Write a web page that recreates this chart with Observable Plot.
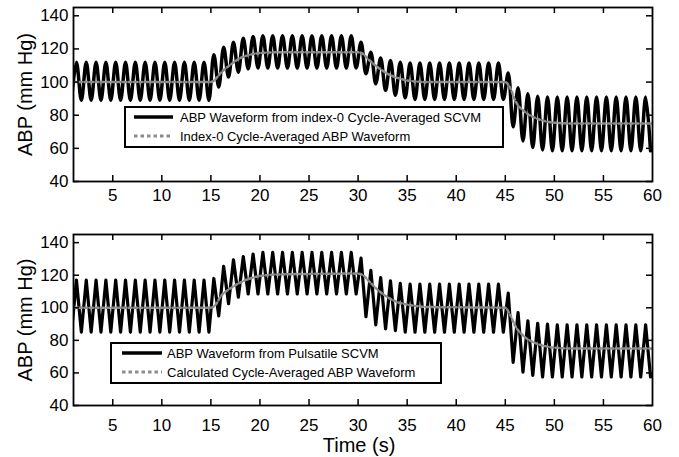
<!DOCTYPE html>
<html>
<head>
<meta charset="utf-8">
<script src="https://cdn.jsdelivr.net/npm/d3@7"></script>
<script src="https://cdn.jsdelivr.net/npm/@observablehq/plot@0.6"></script>
<style>
  html, body { margin: 0; padding: 0; background: white; }
  #wrap { position: relative; width: 679px; height: 457px; font-family: "Liberation Sans", Arial, sans-serif; }
  .legend { position: absolute; }
</style>
</head>
<body>
<div id="wrap"></div>
<script>
// ---------- data ----------
const xTicks = [5, 10, 15, 20, 25, 30, 35, 40, 45, 50, 55, 60];
const yTicks = [40, 60, 80, 100, 120, 140];

// beat numbers: peaks at beat + 0.3 s, troughs at beat + 0.8 s
const peakBeats = d3.range(1, 60);    // 1..59
const troughBeats = d3.range(0, 60);  // 0..59

// Top panel: ABP waveform from index-0 cycle-averaged SCVM
const topPeaks = [
  112,112,112,112,112,112,112,112,112,112,112,112,112,112,
  116.5,121,124,126.5,127.5,
  128,128,128,128,128,128,128,128,128,128,
  124,118,114.5,113,112,
  111.5,111.5,111.5,111.5,111.5,111.5,111.5,111.5,111.5,111.5,
  105.5,96.5,93,91.5,
  91,91,91,91,91,91,91,91,91,91,91
];
const topTroughs = [
  89,89,89,89,89,89,89,89,89,89,89,89,89,89,89,
  97,103,106,108,
  108.5,108.5,108.5,108.5,108.5,108.5,108.5,108.5,108.5,108.5,108.5,
  105,99,95,92,90.5,
  89.5,89.5,89.5,89.5,89.5,89.5,89.5,89.5,89.5,89.5,
  73,64.5,60.5,59,
  58.5,58.5,58.5,58.5,58.5,58.5,58.5,58.5,58.5,58.5,58.5
];
const topMeanT = [1, 15, 15.5, 16, 17, 18, 19, 20, 22, 30, 30.5, 31, 32, 33, 34, 35, 37, 45, 45.5, 46, 47, 48, 49, 50, 52, 60];
const topMeanV = [100, 100, 102, 105.5, 110.5, 114.5, 116.5, 117.5, 118, 118, 117, 114, 109, 105, 102.5, 101, 100, 100, 96.5, 89, 82, 78.5, 76.5, 75.5, 75, 75];

// Bottom panel: ABP waveform from pulsatile SCVM
const botPeaks = [
  117,117,117,117,117,117,117,117,117,117,117,117,117,117,
  118,125.5,129.5,131.5,133,
  134,134,134,134,134,134,134,134,134,134,
  130.5,123,118.5,116.5,115,
  114.5,114.5,114.5,114.5,114.5,114.5,114.5,114.5,114.5,114.5,
  109,97,92,90.5,
  90,89.5,89.5,89.5,89.5,89.5,89.5,89.5,89.5,89.5,89.5
];
const botTroughs = [
  85,85,85,85,85,85,85,85,85,85,85,85,85,85,85,
  95,102.5,106.5,108.5,
  108.5,108.5,108.5,108.5,108.5,108.5,108.5,108.5,108.5,108.5,108.5,
  94.5,89.5,87,86,
  85,85,85,85,85,85,85,85,85,85,85,
  66.5,60.5,58.5,57.5,
  57.5,57.5,57.5,57.5,57.5,57.5,57.5,57.5,57.5,57.5,57.5
];
const botMeanT = [1, 15, 15.5, 16, 17, 18, 19, 20, 22, 30, 30.5, 31, 32, 33, 34, 35, 37, 45, 45.5, 46, 47, 48, 49, 50, 52, 60];
const botMeanV = [100, 100, 102, 107, 112, 115.5, 118, 119.5, 120.5, 121, 120, 117, 111, 106.5, 103.5, 102, 100.5, 100, 95.5, 89, 82, 78.5, 76.5, 75.5, 75, 75];

const legendTop = ["ABP Waveform from index-0 Cycle-Averaged SCVM", "Index-0 Cycle-Averaged ABP Waveform"];
const legendBot = ["ABP Waveform from Pulsatile SCVM", "Calculated Cycle-Averaged ABP Waveform"];
const yLabel = "ABP (mm Hg)";
const xLabel = "Time (s)";

// ---------- build ----------
function buildWave(peaks, troughs) {
  const w = [];
  troughBeats.forEach((b, i) => {
    w.push({t: b + 0.8, v: troughs[i]});
    if (i < peakBeats.length) w.push({t: peakBeats[i] + 0.3, v: peaks[i]});
  });
  w.sort((a, b) => a.t - b.t);
  return w;
}

const W = 679, ML = 73, MR = 27;
const grayCol = "#8c8c8c";

function panel({height, marginTop, marginBottom, peaks, troughs, meanT, meanV, curve, waveWidth, tickPad, showXLabel}) {
  const plotH = height - marginTop - marginBottom;
  const plotW = W - ML - MR;
  const wave = buildWave(peaks, troughs);
  const mean = meanT.map((t, i) => ({t, v: meanV[i]}));
  const marks = [
    Plot.line(wave, {x: "t", y: "v", stroke: "black", strokeWidth: waveWidth, curve, clip: true}),
    Plot.line(mean, {x: "t", y: "v", stroke: grayCol, strokeWidth: 2.5, strokeDasharray: "3,2.5", curve: "monotone-x", clip: true}),
    Plot.ruleX(xTicks.slice(0, -1), {stroke: "black", strokeWidth: 1.5, insetTop: plotH - 6}),
    Plot.ruleX(xTicks.slice(0, -1), {stroke: "black", strokeWidth: 1.5, insetBottom: plotH - 6}),
    Plot.ruleY(yTicks, {stroke: "black", strokeWidth: 1.5, insetRight: plotW - 6}),
    Plot.ruleY(yTicks, {stroke: "black", strokeWidth: 1.5, insetLeft: plotW - 6}),
    Plot.frame({stroke: "black", strokeWidth: 1.8}),
    Plot.axisX({ticks: xTicks, tickSize: 0, tickPadding: tickPad, label: null, fontSize: 17}),
    Plot.axisY({ticks: yTicks, tickSize: 0, tickPadding: 5, label: null, fontSize: 17}),
    Plot.text([yLabel], {frameAnchor: "left", dx: -48, rotate: -90, textAnchor: "middle", lineAnchor: "middle", text: d => d, fontSize: 20, fill: "black"})
  ];
  if (showXLabel) {
    marks.push(Plot.text([xLabel], {frameAnchor: "bottom", dy: 40, dx: -4, textAnchor: "middle", lineAnchor: "middle", text: d => d, fontSize: 20, fill: "black"}));
  }
  return Plot.plot({
    width: W, height,
    marginLeft: ML, marginRight: MR, marginTop, marginBottom,
    x: {domain: [1, 60]},
    y: {domain: [40, 145]},
    style: {fontFamily: "Liberation Sans, Arial, sans-serif", fontSize: "17px", background: "white", color: "black", display: "block", overflow: "visible"},
    marks
  });
}

function legend(items, left, top, w, lineX0, lineX1, textX) {
  const ns = "http://www.w3.org/2000/svg";
  const svg = document.createElementNS(ns, "svg");
  svg.setAttribute("width", w);
  svg.setAttribute("height", 42);
  svg.setAttribute("class", "legend");
  svg.style.left = left + "px";
  svg.style.top = top + "px";
  const rect = document.createElementNS(ns, "rect");
  Object.entries({x: 1, y: 1, width: w - 2, height: 40, fill: "white", stroke: "black", "stroke-width": 2}).forEach(([k, v]) => rect.setAttribute(k, v));
  svg.appendChild(rect);
  const rows = [11, 30];
  items.forEach((label, i) => {
    const ln = document.createElementNS(ns, "line");
    const attrs = {x1: lineX0, x2: lineX1, y1: rows[i], y2: rows[i], stroke: i === 0 ? "black" : grayCol, "stroke-width": i === 0 ? 3.5 : 3};
    if (i === 1) attrs["stroke-dasharray"] = "3.5,3";
    Object.entries(attrs).forEach(([k, v]) => ln.setAttribute(k, v));
    svg.appendChild(ln);
    const tx = document.createElementNS(ns, "text");
    tx.setAttribute("x", textX);
    tx.setAttribute("y", rows[i]);
    tx.setAttribute("dy", "0.35em");
    tx.setAttribute("font-size", 13);
    tx.setAttribute("font-family", "Liberation Sans, Arial, sans-serif");
    tx.textContent = label;
    svg.appendChild(tx);
  });
  return svg;
}

const wrap = document.getElementById("wrap");
wrap.appendChild(panel({height: 215, marginTop: 7, marginBottom: 34, peaks: topPeaks, troughs: topTroughs, meanT: topMeanT, meanV: topMeanV, curve: "catmull-rom", waveWidth: 3.5, tickPad: 7, showXLabel: false}));
wrap.appendChild(panel({height: 242, marginTop: 19, marginBottom: 52, peaks: botPeaks, troughs: botTroughs, meanT: botMeanT, meanV: botMeanV, curve: "linear", waveWidth: 3.2, tickPad: 13, showXLabel: true}));
wrap.appendChild(legend(legendTop, 124, 106, 380, 10, 49, 56));
wrap.appendChild(legend(legendBot, 110, 342, 332, 12, 52, 57));
</script>
</body>
</html>
